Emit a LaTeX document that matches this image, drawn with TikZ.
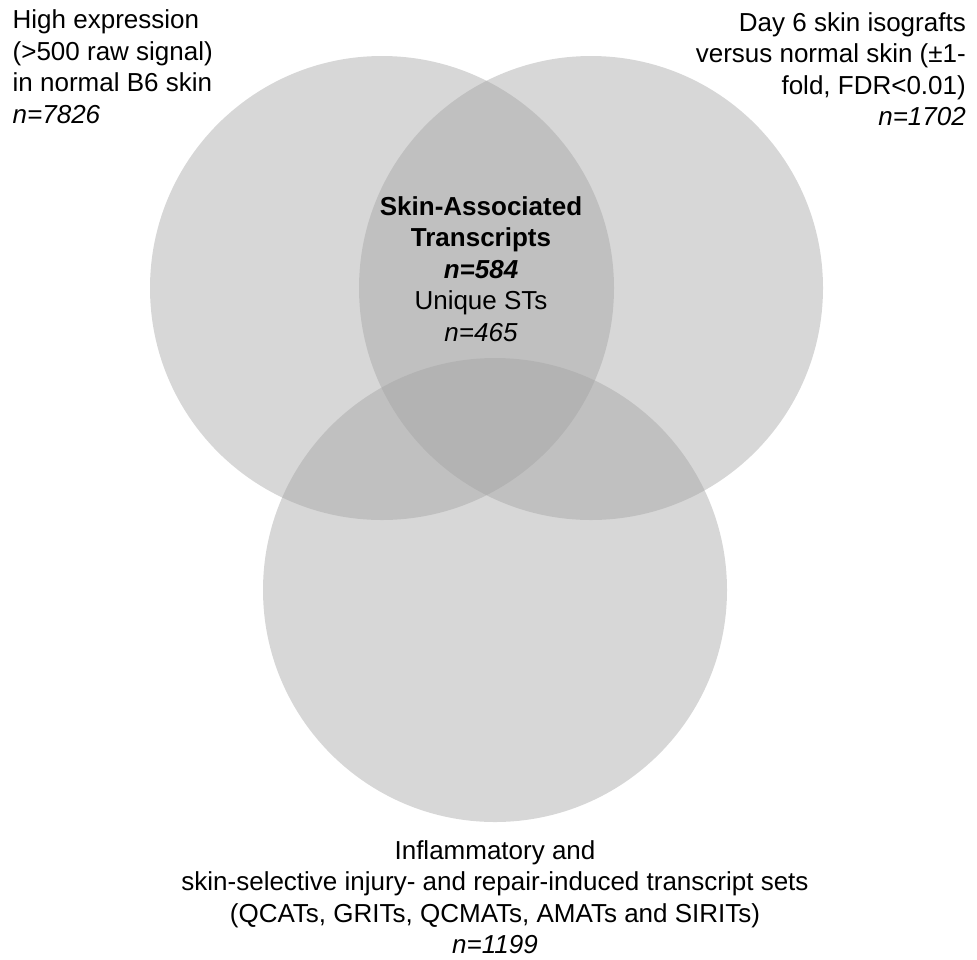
\documentclass[tikz,border=0pt]{standalone}
\usepackage{fontspec}
\setmainfont{Liberation Sans}
\begin{document}
\begin{tikzpicture}[x=1pt,y=-1pt,
    setdisc/.style={fill=black!36,fill opacity=0.44},
    setlabel/.style={inner sep=0pt,font=\fontsize{26}{31.5}\selectfont}]
    \useasboundingbox (0,0) rectangle (977,959);

    % the three sets
    \fill[setdisc] (382,288) circle (232pt);
    \fill[setdisc] (591,288) circle (232pt);
    \fill[setdisc] (495,590) circle (232pt);

    % set labels
    \node[setlabel,anchor=north west,align=left] (expr) at (12.5,9.5)
        {High expression\\(>500 raw signal)\\in normal B6 skin\\\textit{n=7826}};
    \node[setlabel,anchor=north east,align=right] (isograft) at (966,12)
        {Day 6 skin isografts\\versus normal skin (±1-\\fold, FDR<0.01)\\\textit{n=1702}};
    \node[setlabel,anchor=north,align=center] (injury) at (495,840)
        {Inflammatory and\\skin-selective injury- and repair-induced transcript sets\\(QCATs, GRITs, QCMATs, AMATs and SIRITs)\\\textit{n=1199}};

    % centre
    \node[setlabel,anchor=north,align=center] (skin) at (481,196)
        {\textbf{Skin-Associated}\\\textbf{Transcripts}\\\textbf{\textit{n=584}}\\Unique STs\\\textit{n=465}};
\end{tikzpicture}
\end{document}
